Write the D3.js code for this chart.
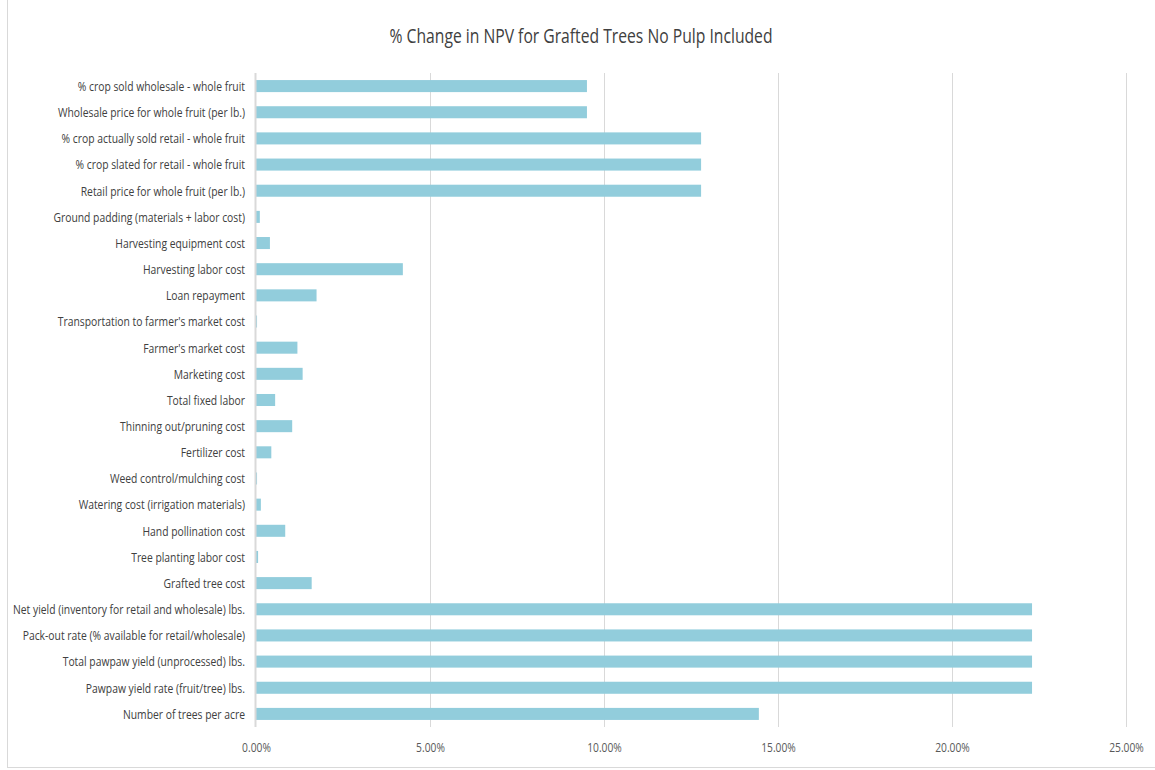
<!DOCTYPE html>
<html><head><meta charset="utf-8">
<script src="https://cdn.jsdelivr.net/npm/d3@7"></script>
<style>body{margin:0;background:#fff}svg{display:block}</style>
</head><body>
<svg id="chart" width="1155" height="770"></svg>
<script>
const categories = [
  "% crop sold wholesale - whole fruit",
  "Wholesale price for whole fruit (per lb.)",
  "% crop actually sold retail - whole fruit",
  "% crop slated for retail - whole fruit",
  "Retail price for whole fruit (per lb.)",
  "Ground padding (materials + labor cost)",
  "Harvesting equipment cost",
  "Harvesting labor cost",
  "Loan repayment",
  "Transportation to farmer's market cost",
  "Farmer's market cost",
  "Marketing cost",
  "Total fixed labor",
  "Thinning out/pruning cost",
  "Fertilizer cost ",
  "Weed control/mulching cost",
  "Watering cost (irrigation materials)",
  "Hand pollination cost",
  "Tree planting labor cost",
  "Grafted tree cost ",
  "Net yield (inventory for retail and wholesale) lbs.",
  "Pack-out rate (% available for retail/wholesale)",
  "Total pawpaw yield (unprocessed) lbs.",
  "Pawpaw yield rate (fruit/tree) lbs.",
  "Number of trees per acre"
];
const values = [
  0.0951, 0.0951, 0.1279, 0.1279, 0.1279,
  0.0011, 0.0040, 0.0422, 0.0174, 0.0003,
  0.0119, 0.0134, 0.0055, 0.0104, 0.0044,
  0.0003, 0.0014, 0.0084, 0.0006, 0.0160,
  0.2230, 0.2230, 0.2230, 0.2230, 0.1445
];
const xTicks = [0, 0.05, 0.10, 0.15, 0.20, 0.25];
const title = "% Change in NPV for Grafted Trees No Pulp Included";

const svg = d3.select("#chart");
const W = 1155, H = 770;
const margin = {left: 256, right: 29, top: 73, bottom: 43};
const font = "'Open Sans', sans-serif";

function condense(sel, k) {
  sel.each(function () {
    const len = this.getComputedTextLength();
    d3.select(this).attr("textLength", len * k).attr("lengthAdjust", "spacingAndGlyphs");
  });
}

// outer frame
svg.append("rect").attr("x", 7.5).attr("y", -1).attr("width", W).attr("height", H - 1.5)
  .attr("fill", "#fff").attr("stroke", "#d9d9d9");

const x = d3.scaleLinear().domain([0, 0.25]).range([margin.left, W - margin.right]);
const y = d3.scaleBand().domain(categories).range([margin.top, H - margin.bottom]).paddingInner(0.54).paddingOuter(0.27);

// gridlines
svg.append("g").selectAll("line").data(xTicks.slice(1)).join("line")
  .attr("x1", d => x(d) + 0.5).attr("x2", d => x(d) + 0.5)
  .attr("y1", margin.top).attr("y2", H - margin.bottom)
  .attr("stroke", "#d9d9d9").attr("stroke-width", 1);

// x axis labels
const xAxis = d3.axisBottom(x).tickValues(xTicks).tickFormat(d3.format(".2%")).tickSize(0).tickPadding(0);
const gx = svg.append("g").attr("transform", `translate(0,${H - margin.bottom + 16})`).call(xAxis);
gx.select(".domain").remove();
gx.selectAll("text").attr("font-family", font).attr("font-size", 12.5).attr("fill", "#595959");
condense(gx.selectAll("text"), 0.82);

// bars
svg.append("g").selectAll("rect").data(categories).join("rect")
  .attr("x", x(0))
  .attr("y", d => y(d))
  .attr("width", (d, i) => Math.max(1, x(values[i]) - x(0)))
  .attr("height", y.bandwidth())
  .attr("fill", "#92cddc");

// vertical axis line
svg.append("line").attr("x1", x(0) - 0.5).attr("x2", x(0) - 0.5)
  .attr("y1", margin.top).attr("y2", H - margin.bottom)
  .attr("stroke", "#d9d9d9").attr("stroke-width", 2);

// y axis labels
const yAxis = d3.axisLeft(y).tickSize(0).tickPadding(11);
const gy = svg.append("g").attr("transform", `translate(${x(0)},0.5)`).call(yAxis);
gy.select(".domain").remove();
gy.selectAll("text").attr("font-family", font).attr("font-size", 13.5).attr("fill", "#404040");
let maxLen = 0;
gy.selectAll("text").each(function () { maxLen = Math.max(maxLen, this.getComputedTextLength()); });
condense(gy.selectAll("text"), 232 / maxLen);

// title
const t = svg.append("text").attr("x", 581).attr("y", 43).attr("text-anchor", "middle")
  .attr("font-family", font).attr("font-size", 20).attr("fill", "#404040").text(title);
t.attr("textLength", 383).attr("lengthAdjust", "spacingAndGlyphs");
</script>
</body></html>
